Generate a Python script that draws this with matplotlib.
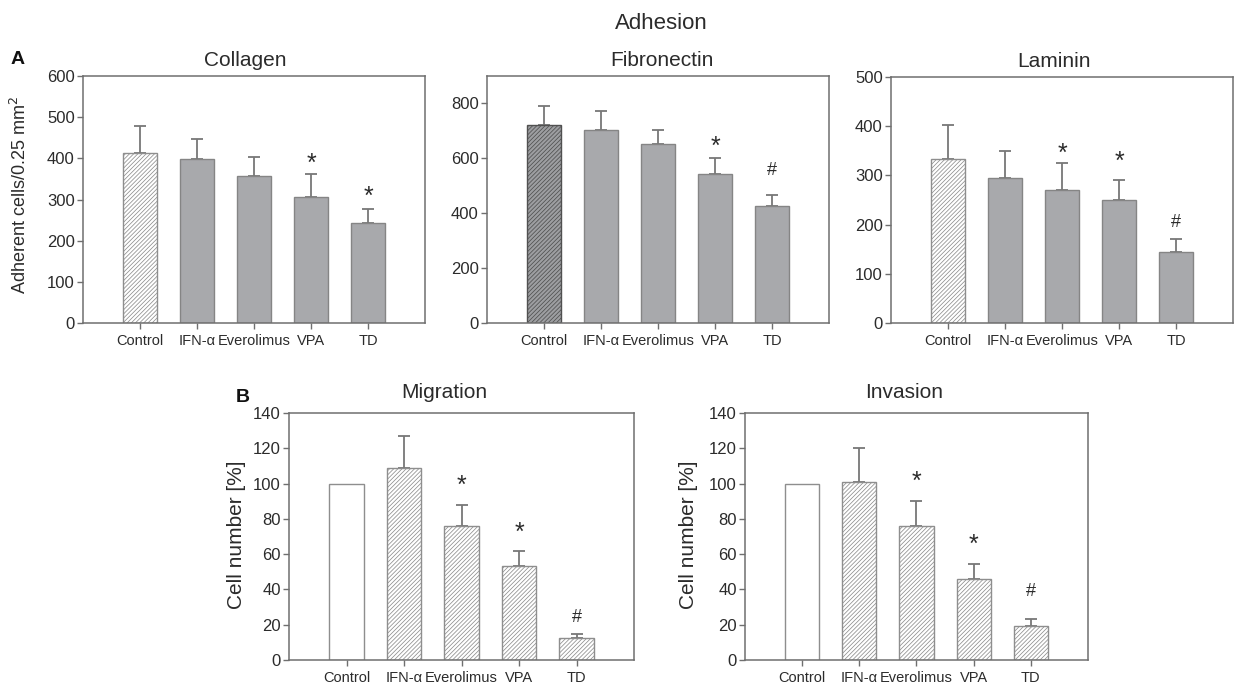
import matplotlib
matplotlib.use('Agg')
import matplotlib.pyplot as plt
import numpy as np

plt.rcParams['font.family'] = ['Liberation Sans', 'DejaVu Sans']
plt.rcParams['hatch.linewidth'] = 0.55

# ---- data ----
groups = ['Control', 'IFN-α', 'Everolimus', 'VPA', 'TD']

collagen_mean = [412, 398, 357, 307, 242]
collagen_err = [66, 50, 46, 56, 34]
collagen_marks = ['', '', '', '*', '*']
collagen_mark_y = [0, 0, 0, 405, 325]

fibronectin_mean = [722, 704, 653, 543, 428]
fibronectin_err = [69, 67, 52, 59, 40]
fibronectin_marks = ['', '', '', '*', '#']
fibronectin_mark_y = [0, 0, 0, 669, 563]

laminin_mean = [333, 295, 270, 250, 144]
laminin_err = [69, 54, 55, 40, 27]
laminin_marks = ['', '', '*', '*', '#']
laminin_mark_y = [0, 0, 359, 344, 208]

migration_mean = [100, 109, 76, 53.5, 12.3]
migration_err = [0, 18, 12, 8, 2.5]
migration_marks = ['', '', '*', '*', '#']
migration_mark_y = [0, 0, 103, 76.6, 25.5]

invasion_mean = [100, 101, 76, 46, 19]
invasion_err = [0, 19, 14, 8.5, 4.2]
invasion_marks = ['', '', '*', '*', '#']
invasion_mark_y = [0, 0, 105.4, 69.4, 39.7]

# ---- styles ----
SPINE = '#6f6f6f'
TXT = '#2b2b2b'
GRAY = dict(fc='#a8a9ac', ec='#858585', hatch=None)
LIGHT_HATCH = dict(fc='white', ec='#8e8e8e', hatch='////////')
DARK_HATCH = dict(fc='#9d9ea1', ec='#505050', hatch='////////')
OPEN = dict(fc='white', ec='#8e8e8e', hatch=None)

W, H = 1234, 684
fig = plt.figure(figsize=(W / 100, H / 100), dpi=100)


def px_axes(left, right, top, bottom):
    return fig.add_axes([left / W, 1 - bottom / H, (right - left) / W, (bottom - top) / H])


def draw_panel(ax, means, errs, styles, marks, mark_y, yticks, ylim, title, title_x, title_pad):
    x = np.arange(len(groups))
    for xi, m, st in zip(x, means, styles):
        ax.bar(xi, m, width=0.6, color=st['fc'], edgecolor=st['ec'],
               hatch=st['hatch'], linewidth=1.0, zorder=2)
    err = np.array(errs, dtype=float)
    show = err > 0
    ax.errorbar(x[show], np.array(means)[show],
                yerr=[np.zeros(show.sum()), err[show]],
                fmt='none', ecolor='#777777', elinewidth=1.3, capsize=4,
                capthick=1.3, zorder=1)
    for xi, mk, my in zip(x, marks, mark_y):
        if not mk:
            continue
        fs = 18 if mk == '*' else 13
        off = 0.59 * fs if mk == '*' else 0.36 * fs
        ax.annotate(mk, (xi, my), xytext=(0, -off), textcoords='offset points',
                    ha='center', va='baseline', fontsize=fs, color=TXT)
    ax.set_xlim(-1, 5)
    ax.set_ylim(*ylim)
    ax.set_yticks(yticks)
    ax.set_xticks(x)
    ax.set_xticklabels(groups)
    for s in ax.spines.values():
        s.set_color(SPINE)
        s.set_linewidth(1.1)
    ax.tick_params(axis='y', direction='out', length=4, width=1.0, color=SPINE,
                   labelsize=12, labelcolor=TXT, pad=2)
    ax.tick_params(axis='x', direction='out', length=4, width=1.0, color=SPINE,
                   labelsize=10.5, labelcolor=TXT, pad=4)
    ax.set_title(title, fontsize=15, color=TXT, x=title_x, pad=title_pad)


a_styles = [LIGHT_HATCH, GRAY, GRAY, GRAY, GRAY]
f_styles = [DARK_HATCH, GRAY, GRAY, GRAY, GRAY]
b_styles = [OPEN, LIGHT_HATCH, LIGHT_HATCH, LIGHT_HATCH, LIGHT_HATCH]

ax1 = px_axes(83, 425, 76, 323)
draw_panel(ax1, collagen_mean, collagen_err, a_styles, collagen_marks, collagen_mark_y,
           range(0, 601, 100), (0, 600), 'Collagen', 0.474, 7)

ax2 = px_axes(487, 829, 76, 323)
draw_panel(ax2, fibronectin_mean, fibronectin_err, f_styles, fibronectin_marks, fibronectin_mark_y,
           range(0, 801, 200), (0, 900), 'Fibronectin', 0.512, 7)

ax3 = px_axes(891, 1233, 77, 323)
draw_panel(ax3, laminin_mean, laminin_err, a_styles, laminin_marks, laminin_mark_y,
           range(0, 501, 100), (0, 500), 'Laminin', 0.477, 7)

ax4 = px_axes(289, 634, 413, 660)
draw_panel(ax4, migration_mean, migration_err, b_styles, migration_marks, migration_mark_y,
           range(0, 141, 20), (0, 140), 'Migration', 0.451, 11)

ax5 = px_axes(745, 1088, 413, 660)
draw_panel(ax5, invasion_mean, invasion_err, b_styles, invasion_marks, invasion_mark_y,
           range(0, 141, 20), (0, 140), 'Invasion', 0.465, 11)

# axis labels
fig.text(20 / W, 1 - 195 / H, 'Adherent cells/0.25 mm$^2$', rotation=90,
         ha='center', va='center', fontsize=13, color=TXT)
fig.text(236 / W, 1 - 535 / H, 'Cell number [%]', rotation=90,
         ha='center', va='center', fontsize=15, color=TXT)
fig.text(688 / W, 1 - 535 / H, 'Cell number [%]', rotation=90,
         ha='center', va='center', fontsize=15, color=TXT)

# headings and panel letters
fig.text(661.5 / W, 1 - 29 / H, 'Adhesion', ha='center', va='baseline',
         fontsize=16, color=TXT)
fig.text(18 / W, 1 - 64 / H, 'A', ha='center', va='baseline',
         fontsize=14, fontweight='bold', color='#111111')
fig.text(243 / W, 1 - 402 / H, 'B', ha='center', va='baseline',
         fontsize=14, fontweight='bold', color='#111111')

fig.savefig('out.png', dpi=100, facecolor='white')
